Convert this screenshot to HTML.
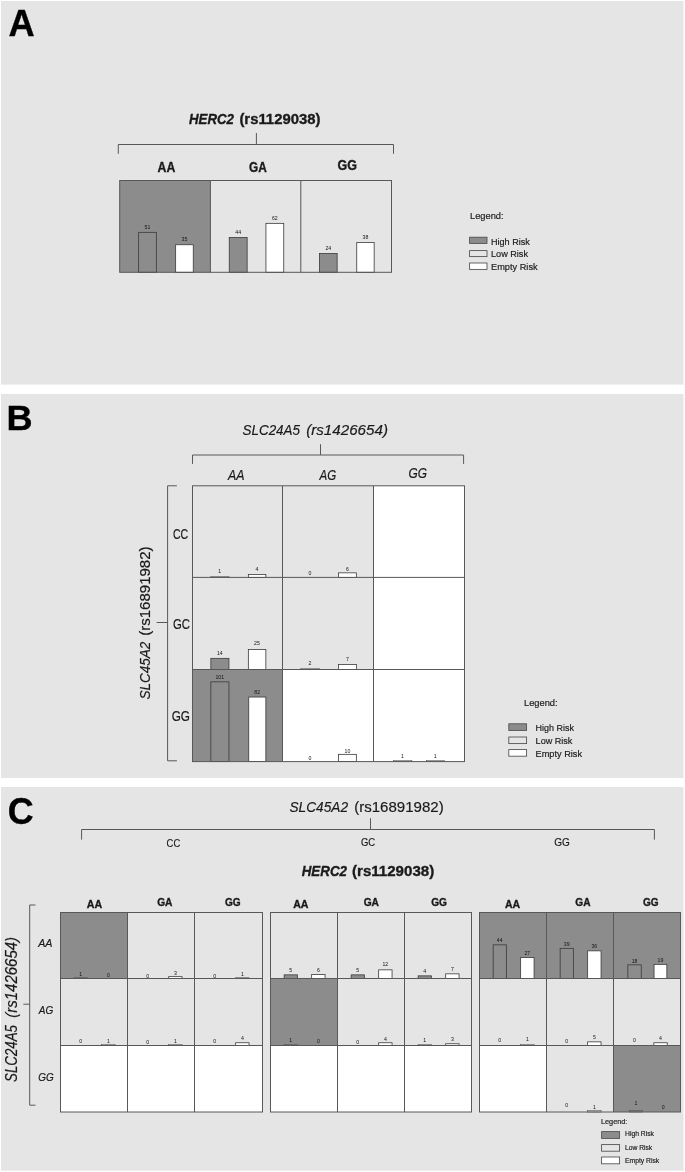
<!DOCTYPE html>
<html><head><meta charset="utf-8"><title>Figure</title>
<style>html,body{margin:0;padding:0;background:#ffffff;}svg{display:block;will-change:transform;}text{font-family:"Liberation Sans",sans-serif;}</style>
</head><body>
<svg width="685" height="1172" viewBox="0 0 685 1172">
<rect x="0" y="0" width="685" height="1172" fill="#ffffff"/>
<rect x="1.00" y="1.00" width="682.50" height="383.60" fill="#e5e5e5"/>
<rect x="1.00" y="393.90" width="682.50" height="384.10" fill="#e5e5e5"/>
<rect x="1.00" y="787.00" width="682.50" height="383.60" fill="#e5e5e5"/>
<text x="8.60" y="35.60" textLength="26.20" lengthAdjust="spacingAndGlyphs" style="font-size:36.8px;font-weight:bold;stroke:#000;stroke-width:0.35px;" fill="#000">A</text>
<text x="189.00" y="124.00" textLength="45.00" lengthAdjust="spacingAndGlyphs" style="font-size:15px;font-weight:bold;stroke:#1a1a1a;stroke-width:0.35px;font-style:italic;" fill="#1a1a1a">HERC2</text>
<text x="239.40" y="124.00" textLength="81.10" lengthAdjust="spacingAndGlyphs" style="font-size:15px;font-weight:bold;stroke:#1a1a1a;stroke-width:0.35px;" fill="#1a1a1a">(rs1129038)</text>
<path d="M118.3 153.8 V144.5 H393.5 V153.8" fill="none" stroke="#585858" stroke-width="1"/>
<line x1="256.40" y1="133.00" x2="256.40" y2="144.50" stroke="#585858" stroke-width="1"/>
<text x="157.60" y="172.20" textLength="17.70" lengthAdjust="spacingAndGlyphs" style="font-size:14.2px;font-weight:bold;stroke:#1a1a1a;stroke-width:0.35px;" fill="#1a1a1a">AA</text>
<text x="249.00" y="172.00" textLength="17.80" lengthAdjust="spacingAndGlyphs" style="font-size:14.2px;font-weight:bold;stroke:#1a1a1a;stroke-width:0.35px;" fill="#1a1a1a">GA</text>
<text x="337.60" y="170.40" textLength="19.40" lengthAdjust="spacingAndGlyphs" style="font-size:14.2px;font-weight:bold;stroke:#1a1a1a;stroke-width:0.35px;" fill="#1a1a1a">GG</text>
<rect x="119.70" y="180.50" width="90.70" height="91.80" fill="#8c8c8c"/>
<rect x="138.65" y="232.35" width="17.70" height="39.95" fill="#8c8c8c" stroke="#3a3a3a" stroke-width="0.8"/>
<rect x="175.65" y="244.75" width="17.60" height="27.55" fill="#ffffff" stroke="#3a3a3a" stroke-width="0.8"/>
<rect x="229.25" y="237.55" width="17.90" height="34.75" fill="#8c8c8c" stroke="#3a3a3a" stroke-width="0.8"/>
<rect x="265.95" y="223.35" width="17.80" height="48.95" fill="#ffffff" stroke="#3a3a3a" stroke-width="0.8"/>
<rect x="319.45" y="253.45" width="17.70" height="18.85" fill="#8c8c8c" stroke="#3a3a3a" stroke-width="0.8"/>
<rect x="356.75" y="242.55" width="17.40" height="29.75" fill="#ffffff" stroke="#3a3a3a" stroke-width="0.8"/>
<text x="147.50" y="228.66" text-anchor="middle" style="font-size:5.2px;" fill="#141414">51</text>
<text x="184.40" y="241.06" text-anchor="middle" style="font-size:5.2px;" fill="#141414">35</text>
<text x="238.20" y="233.86" text-anchor="middle" style="font-size:5.2px;" fill="#141414">44</text>
<text x="274.80" y="219.66" text-anchor="middle" style="font-size:5.2px;" fill="#141414">62</text>
<text x="328.30" y="249.76" text-anchor="middle" style="font-size:5.2px;" fill="#141414">24</text>
<text x="365.40" y="238.86" text-anchor="middle" style="font-size:5.2px;" fill="#141414">38</text>
<line x1="210.40" y1="180.50" x2="210.40" y2="272.30" stroke="#585858" stroke-width="1"/>
<line x1="300.80" y1="180.50" x2="300.80" y2="272.30" stroke="#585858" stroke-width="1"/>
<rect x="119.70" y="180.50" width="271.80" height="91.80" fill="none" stroke="#585858" stroke-width="1"/>
<text x="470.00" y="218.60" textLength="33.60" lengthAdjust="spacingAndGlyphs" style="font-size:9.7px;stroke:#1a1a1a;stroke-width:0.18px;" fill="#1a1a1a">Legend:</text>
<rect x="469.60" y="237.20" width="17.40" height="6.20" fill="#8c8c8c" stroke="#4d4d4d" stroke-width="0.85"/>
<rect x="469.60" y="250.60" width="17.40" height="6.00" fill="#e5e5e5" stroke="#4d4d4d" stroke-width="0.85"/>
<rect x="469.60" y="263.00" width="17.40" height="6.40" fill="#ffffff" stroke="#4d4d4d" stroke-width="0.85"/>
<text x="491.00" y="244.60" textLength="38.80" lengthAdjust="spacingAndGlyphs" style="font-size:9.7px;stroke:#1a1a1a;stroke-width:0.18px;" fill="#1a1a1a">High Risk</text>
<text x="491.00" y="257.40" textLength="37.00" lengthAdjust="spacingAndGlyphs" style="font-size:9.7px;stroke:#1a1a1a;stroke-width:0.18px;" fill="#1a1a1a">Low Risk</text>
<text x="491.00" y="270.00" textLength="46.60" lengthAdjust="spacingAndGlyphs" style="font-size:9.7px;stroke:#1a1a1a;stroke-width:0.18px;" fill="#1a1a1a">Empty Risk</text>
<text x="6.60" y="430.10" textLength="26.10" lengthAdjust="spacingAndGlyphs" style="font-size:35.4px;font-weight:bold;stroke:#000;stroke-width:0.35px;" fill="#000">B</text>
<text x="242.50" y="435.00" textLength="57.50" lengthAdjust="spacingAndGlyphs" style="font-size:15.2px;stroke:#1a1a1a;stroke-width:0.18px;font-style:italic;" fill="#1a1a1a">SLC24A5</text>
<text x="306.20" y="435.00" textLength="81.80" lengthAdjust="spacingAndGlyphs" style="font-size:15.2px;stroke:#1a1a1a;stroke-width:0.18px;font-style:italic;" fill="#1a1a1a">(rs1426654)</text>
<path d="M192.5 463.9 V455 H463.6 V463.9" fill="none" stroke="#585858" stroke-width="1"/>
<line x1="320.50" y1="444.20" x2="320.50" y2="455.00" stroke="#585858" stroke-width="1"/>
<text x="228.00" y="479.50" textLength="16.50" lengthAdjust="spacingAndGlyphs" style="font-size:14.2px;stroke:#1a1a1a;stroke-width:0.18px;font-style:italic;" fill="#1a1a1a">AA</text>
<text x="319.50" y="479.50" textLength="16.70" lengthAdjust="spacingAndGlyphs" style="font-size:14.2px;stroke:#1a1a1a;stroke-width:0.18px;font-style:italic;" fill="#1a1a1a">AG</text>
<text x="408.50" y="478.00" textLength="18.50" lengthAdjust="spacingAndGlyphs" style="font-size:14.2px;stroke:#1a1a1a;stroke-width:0.18px;font-style:italic;" fill="#1a1a1a">GG</text>
<path d="M176.9 485.8 H167.6 V760.8 H176.9" fill="none" stroke="#585858" stroke-width="1"/>
<line x1="156.70" y1="622.50" x2="167.60" y2="622.50" stroke="#585858" stroke-width="1"/>
<text x="173.00" y="539.20" textLength="15.20" lengthAdjust="spacingAndGlyphs" style="font-size:14.2px;stroke:#1a1a1a;stroke-width:0.18px;" fill="#1a1a1a">CC</text>
<text x="173.00" y="629.00" textLength="17.00" lengthAdjust="spacingAndGlyphs" style="font-size:14.2px;stroke:#1a1a1a;stroke-width:0.18px;" fill="#1a1a1a">GC</text>
<text x="171.70" y="720.70" textLength="18.30" lengthAdjust="spacingAndGlyphs" style="font-size:14.2px;stroke:#1a1a1a;stroke-width:0.18px;" fill="#1a1a1a">GG</text>
<text x="0" y="0" transform="translate(150.40,699.60) rotate(-90)" textLength="58.00" lengthAdjust="spacingAndGlyphs" style="font-size:15.2px;stroke:#1a1a1a;stroke-width:0.18px;font-style:italic;" fill="#1a1a1a">SLC45A2</text>
<text x="0" y="0" transform="translate(150.40,635.70) rotate(-90)" textLength="89.20" lengthAdjust="spacingAndGlyphs" style="font-size:15.2px;stroke:#1a1a1a;stroke-width:0.18px;" fill="#1a1a1a">(rs16891982)</text>
<rect x="373.50" y="485.80" width="91.00" height="275.80" fill="#ffffff"/>
<rect x="282.50" y="669.50" width="91.00" height="92.10" fill="#ffffff"/>
<rect x="192.50" y="669.50" width="90.00" height="92.10" fill="#8c8c8c"/>
<rect x="210.80" y="576.40" width="18.20" height="1.00" fill="none" stroke="#555555" stroke-width="0.6"/>
<rect x="248.35" y="574.55" width="17.50" height="2.85" fill="#ffffff" stroke="#3a3a3a" stroke-width="0.8"/>
<rect x="338.55" y="572.85" width="17.80" height="4.55" fill="#ffffff" stroke="#3a3a3a" stroke-width="0.8"/>
<rect x="210.85" y="658.35" width="18.10" height="11.15" fill="#8c8c8c" stroke="#3a3a3a" stroke-width="0.8"/>
<rect x="248.35" y="649.55" width="17.50" height="19.95" fill="#ffffff" stroke="#3a3a3a" stroke-width="0.8"/>
<rect x="300.80" y="668.30" width="18.40" height="1.20" fill="none" stroke="#555555" stroke-width="0.6"/>
<rect x="338.55" y="664.55" width="17.80" height="4.95" fill="#ffffff" stroke="#3a3a3a" stroke-width="0.8"/>
<rect x="210.85" y="681.85" width="18.10" height="79.75" fill="#8c8c8c" stroke="#3a3a3a" stroke-width="0.8"/>
<rect x="248.75" y="697.05" width="17.10" height="64.55" fill="#ffffff" stroke="#3a3a3a" stroke-width="0.8"/>
<rect x="338.55" y="754.35" width="17.80" height="7.25" fill="#ffffff" stroke="#3a3a3a" stroke-width="0.8"/>
<rect x="393.60" y="760.60" width="18.30" height="1.00" fill="none" stroke="#555555" stroke-width="0.6"/>
<rect x="426.30" y="760.60" width="18.20" height="1.00" fill="none" stroke="#555555" stroke-width="0.6"/>
<text x="219.80" y="573.06" text-anchor="middle" style="font-size:5.2px;" fill="#141414">1</text>
<text x="257.00" y="571.06" text-anchor="middle" style="font-size:5.2px;" fill="#141414">4</text>
<text x="347.50" y="571.06" text-anchor="middle" style="font-size:5.2px;" fill="#141414">6</text>
<text x="219.80" y="655.36" text-anchor="middle" style="font-size:5.2px;" fill="#141414">14</text>
<text x="257.00" y="645.06" text-anchor="middle" style="font-size:5.2px;" fill="#141414">25</text>
<text x="310.00" y="665.36" text-anchor="middle" style="font-size:5.2px;" fill="#141414">2</text>
<text x="347.50" y="660.56" text-anchor="middle" style="font-size:5.2px;" fill="#141414">7</text>
<text x="219.80" y="679.36" text-anchor="middle" style="font-size:5.2px;" fill="#141414">101</text>
<text x="257.20" y="693.86" text-anchor="middle" style="font-size:5.2px;" fill="#141414">82</text>
<text x="347.50" y="752.86" text-anchor="middle" style="font-size:5.2px;" fill="#141414">10</text>
<text x="402.50" y="757.66" text-anchor="middle" style="font-size:5.2px;" fill="#141414">1</text>
<text x="435.30" y="757.66" text-anchor="middle" style="font-size:5.2px;" fill="#141414">1</text>
<text x="310.00" y="574.56" text-anchor="middle" style="font-size:5.2px;" fill="#141414">0</text>
<text x="310.00" y="759.56" text-anchor="middle" style="font-size:5.2px;" fill="#141414">0</text>
<line x1="282.50" y1="485.80" x2="282.50" y2="761.60" stroke="#585858" stroke-width="1"/>
<line x1="373.50" y1="485.80" x2="373.50" y2="761.60" stroke="#585858" stroke-width="1"/>
<line x1="192.50" y1="577.40" x2="464.50" y2="577.40" stroke="#585858" stroke-width="1"/>
<line x1="192.50" y1="669.50" x2="464.50" y2="669.50" stroke="#585858" stroke-width="1"/>
<rect x="192.50" y="485.80" width="272.00" height="275.80" fill="none" stroke="#585858" stroke-width="1"/>
<text x="524.00" y="705.60" textLength="33.60" lengthAdjust="spacingAndGlyphs" style="font-size:9.7px;stroke:#1a1a1a;stroke-width:0.18px;" fill="#1a1a1a">Legend:</text>
<rect x="508.80" y="723.80" width="17.80" height="6.60" fill="#8c8c8c" stroke="#4d4d4d" stroke-width="0.85"/>
<rect x="508.80" y="737.00" width="17.80" height="6.60" fill="#e5e5e5" stroke="#4d4d4d" stroke-width="0.85"/>
<rect x="508.80" y="749.60" width="17.80" height="6.60" fill="#ffffff" stroke="#4d4d4d" stroke-width="0.85"/>
<text x="535.60" y="731.20" textLength="38.40" lengthAdjust="spacingAndGlyphs" style="font-size:9.7px;stroke:#1a1a1a;stroke-width:0.18px;" fill="#1a1a1a">High Risk</text>
<text x="535.60" y="744.20" textLength="36.80" lengthAdjust="spacingAndGlyphs" style="font-size:9.7px;stroke:#1a1a1a;stroke-width:0.18px;" fill="#1a1a1a">Low Risk</text>
<text x="535.60" y="756.80" textLength="46.40" lengthAdjust="spacingAndGlyphs" style="font-size:9.7px;stroke:#1a1a1a;stroke-width:0.18px;" fill="#1a1a1a">Empty Risk</text>
<text x="7.70" y="823.70" textLength="25.90" lengthAdjust="spacingAndGlyphs" style="font-size:36.5px;font-weight:bold;stroke:#000;stroke-width:0.35px;" fill="#000">C</text>
<text x="289.50" y="812.00" textLength="58.50" lengthAdjust="spacingAndGlyphs" style="font-size:14.8px;stroke:#1a1a1a;stroke-width:0.18px;font-style:italic;" fill="#1a1a1a">SLC45A2</text>
<text x="354.20" y="812.00" textLength="89.50" lengthAdjust="spacingAndGlyphs" style="font-size:14.8px;stroke:#1a1a1a;stroke-width:0.18px;" fill="#1a1a1a">(rs16891982)</text>
<path d="M81.6 839.6 V829.5 H654.4 V839.6" fill="none" stroke="#585858" stroke-width="1"/>
<line x1="370.50" y1="818.20" x2="370.50" y2="829.50" stroke="#585858" stroke-width="1"/>
<text x="166.60" y="847.40" textLength="13.60" lengthAdjust="spacingAndGlyphs" style="font-size:11.2px;stroke:#1a1a1a;stroke-width:0.18px;" fill="#1a1a1a">CC</text>
<text x="361.00" y="846.40" textLength="14.20" lengthAdjust="spacingAndGlyphs" style="font-size:11.2px;stroke:#1a1a1a;stroke-width:0.18px;" fill="#1a1a1a">GC</text>
<text x="554.20" y="846.20" textLength="15.60" lengthAdjust="spacingAndGlyphs" style="font-size:11.2px;stroke:#1a1a1a;stroke-width:0.18px;" fill="#1a1a1a">GG</text>
<text x="301.70" y="875.70" textLength="45.30" lengthAdjust="spacingAndGlyphs" style="font-size:15px;font-weight:bold;stroke:#1a1a1a;stroke-width:0.35px;font-style:italic;" fill="#1a1a1a">HERC2</text>
<text x="352.00" y="875.70" textLength="82.20" lengthAdjust="spacingAndGlyphs" style="font-size:15px;font-weight:bold;stroke:#1a1a1a;stroke-width:0.35px;" fill="#1a1a1a">(rs1129038)</text>
<path d="M35.5 905 H29.7 V1105.2 H35.5" fill="none" stroke="#585858" stroke-width="1"/>
<line x1="23.30" y1="1004.20" x2="29.70" y2="1004.20" stroke="#585858" stroke-width="1"/>
<text x="38.20" y="946.70" textLength="14.30" lengthAdjust="spacingAndGlyphs" style="font-size:11.2px;stroke:#1a1a1a;stroke-width:0.18px;font-style:italic;" fill="#1a1a1a">AA</text>
<text x="38.70" y="1014.00" textLength="14.50" lengthAdjust="spacingAndGlyphs" style="font-size:11.2px;stroke:#1a1a1a;stroke-width:0.18px;font-style:italic;" fill="#1a1a1a">AG</text>
<text x="38.20" y="1080.50" textLength="15.50" lengthAdjust="spacingAndGlyphs" style="font-size:11.2px;stroke:#1a1a1a;stroke-width:0.18px;font-style:italic;" fill="#1a1a1a">GG</text>
<text x="0" y="0" transform="translate(17.40,1082.00) rotate(-90)" textLength="57.00" lengthAdjust="spacingAndGlyphs" style="font-size:15.8px;stroke:#1a1a1a;stroke-width:0.18px;font-style:italic;" fill="#1a1a1a">SLC24A5</text>
<text x="0" y="0" transform="translate(17.40,1017.80) rotate(-90)" textLength="80.90" lengthAdjust="spacingAndGlyphs" style="font-size:15.8px;stroke:#1a1a1a;stroke-width:0.18px;font-style:italic;" fill="#1a1a1a">(rs1426654)</text>
<text x="86.70" y="907.80" textLength="15.40" lengthAdjust="spacingAndGlyphs" style="font-size:11.2px;font-weight:bold;stroke:#1a1a1a;stroke-width:0.35px;" fill="#1a1a1a">AA</text>
<text x="157.20" y="906.00" textLength="15.30" lengthAdjust="spacingAndGlyphs" style="font-size:11.2px;font-weight:bold;stroke:#1a1a1a;stroke-width:0.35px;" fill="#1a1a1a">GA</text>
<text x="225.00" y="906.00" textLength="15.70" lengthAdjust="spacingAndGlyphs" style="font-size:11.2px;font-weight:bold;stroke:#1a1a1a;stroke-width:0.35px;" fill="#1a1a1a">GG</text>
<text x="293.20" y="907.80" textLength="15.30" lengthAdjust="spacingAndGlyphs" style="font-size:11.2px;font-weight:bold;stroke:#1a1a1a;stroke-width:0.35px;" fill="#1a1a1a">AA</text>
<text x="363.70" y="906.00" textLength="15.30" lengthAdjust="spacingAndGlyphs" style="font-size:11.2px;font-weight:bold;stroke:#1a1a1a;stroke-width:0.35px;" fill="#1a1a1a">GA</text>
<text x="431.20" y="906.00" textLength="15.80" lengthAdjust="spacingAndGlyphs" style="font-size:11.2px;font-weight:bold;stroke:#1a1a1a;stroke-width:0.35px;" fill="#1a1a1a">GG</text>
<text x="505.00" y="907.80" textLength="15.20" lengthAdjust="spacingAndGlyphs" style="font-size:11.2px;font-weight:bold;stroke:#1a1a1a;stroke-width:0.35px;" fill="#1a1a1a">AA</text>
<text x="575.30" y="906.00" textLength="15.20" lengthAdjust="spacingAndGlyphs" style="font-size:11.2px;font-weight:bold;stroke:#1a1a1a;stroke-width:0.35px;" fill="#1a1a1a">GA</text>
<text x="643.00" y="906.00" textLength="15.60" lengthAdjust="spacingAndGlyphs" style="font-size:11.2px;font-weight:bold;stroke:#1a1a1a;stroke-width:0.35px;" fill="#1a1a1a">GG</text>
<rect x="60.50" y="1045.50" width="67.00" height="66.50" fill="#ffffff"/>
<rect x="270.50" y="1045.50" width="67.00" height="66.50" fill="#ffffff"/>
<rect x="127.50" y="1045.50" width="67.00" height="66.50" fill="#ffffff"/>
<rect x="337.50" y="1045.50" width="67.00" height="66.50" fill="#ffffff"/>
<rect x="194.50" y="1045.50" width="68.00" height="66.50" fill="#ffffff"/>
<rect x="404.50" y="1045.50" width="67.00" height="66.50" fill="#ffffff"/>
<rect x="60.50" y="912.50" width="67.00" height="66.00" fill="#8c8c8c"/>
<rect x="270.50" y="978.50" width="67.00" height="67.00" fill="#8c8c8c"/>
<rect x="479.50" y="912.50" width="67.00" height="66.00" fill="#8c8c8c"/>
<rect x="546.50" y="912.50" width="67.00" height="66.00" fill="#8c8c8c"/>
<rect x="613.50" y="912.50" width="67.00" height="66.00" fill="#8c8c8c"/>
<rect x="479.50" y="1045.50" width="67.00" height="66.50" fill="#ffffff"/>
<rect x="613.50" y="1045.50" width="67.00" height="66.50" fill="#8c8c8c"/>
<rect x="74.10" y="977.70" width="13.30" height="0.80" fill="none" stroke="#555555" stroke-width="0.6"/>
<rect x="168.65" y="976.65" width="13.40" height="1.85" fill="#ffffff" stroke="#3a3a3a" stroke-width="0.8"/>
<rect x="235.60" y="977.70" width="13.50" height="0.80" fill="none" stroke="#555555" stroke-width="0.6"/>
<rect x="101.60" y="1044.30" width="13.50" height="1.20" fill="none" stroke="#555555" stroke-width="0.6"/>
<rect x="168.60" y="1044.30" width="13.50" height="1.20" fill="none" stroke="#555555" stroke-width="0.6"/>
<rect x="235.65" y="1042.75" width="13.40" height="2.75" fill="#ffffff" stroke="#3a3a3a" stroke-width="0.8"/>
<rect x="284.15" y="974.85" width="13.20" height="3.65" fill="#8c8c8c" stroke="#3a3a3a" stroke-width="0.8"/>
<rect x="311.65" y="974.55" width="13.40" height="3.95" fill="#ffffff" stroke="#3a3a3a" stroke-width="0.8"/>
<rect x="351.15" y="974.85" width="13.20" height="3.65" fill="#8c8c8c" stroke="#3a3a3a" stroke-width="0.8"/>
<rect x="378.65" y="969.85" width="13.40" height="8.65" fill="#ffffff" stroke="#3a3a3a" stroke-width="0.8"/>
<rect x="418.15" y="975.85" width="13.20" height="2.65" fill="#8c8c8c" stroke="#3a3a3a" stroke-width="0.8"/>
<rect x="445.65" y="973.85" width="13.40" height="4.65" fill="#ffffff" stroke="#3a3a3a" stroke-width="0.8"/>
<rect x="284.10" y="1044.30" width="13.30" height="1.20" fill="none" stroke="#555555" stroke-width="0.6"/>
<rect x="378.65" y="1042.75" width="13.40" height="2.75" fill="#ffffff" stroke="#3a3a3a" stroke-width="0.8"/>
<rect x="418.10" y="1044.30" width="13.30" height="1.20" fill="none" stroke="#555555" stroke-width="0.6"/>
<rect x="445.65" y="1043.75" width="13.40" height="1.75" fill="#ffffff" stroke="#3a3a3a" stroke-width="0.8"/>
<rect x="493.15" y="944.85" width="13.20" height="33.65" fill="#8c8c8c" stroke="#3a3a3a" stroke-width="0.8"/>
<rect x="520.65" y="957.55" width="13.40" height="20.95" fill="#ffffff" stroke="#3a3a3a" stroke-width="0.8"/>
<rect x="560.15" y="948.35" width="13.20" height="30.15" fill="#8c8c8c" stroke="#3a3a3a" stroke-width="0.8"/>
<rect x="587.65" y="950.85" width="13.40" height="27.65" fill="#ffffff" stroke="#3a3a3a" stroke-width="0.8"/>
<rect x="627.85" y="964.85" width="13.40" height="13.65" fill="#8c8c8c" stroke="#3a3a3a" stroke-width="0.8"/>
<rect x="654.05" y="964.35" width="12.80" height="14.15" fill="#ffffff" stroke="#3a3a3a" stroke-width="0.8"/>
<rect x="520.60" y="1044.30" width="13.50" height="1.20" fill="none" stroke="#555555" stroke-width="0.6"/>
<rect x="587.65" y="1041.85" width="13.40" height="3.65" fill="#ffffff" stroke="#3a3a3a" stroke-width="0.8"/>
<rect x="653.85" y="1042.75" width="13.40" height="2.75" fill="#ffffff" stroke="#3a3a3a" stroke-width="0.8"/>
<rect x="587.60" y="1110.60" width="13.50" height="1.40" fill="none" stroke="#555555" stroke-width="0.6"/>
<rect x="629.50" y="1110.60" width="12.80" height="1.40" fill="none" stroke="#555555" stroke-width="0.6"/>
<text x="80.75" y="975.86" text-anchor="middle" style="font-size:5.2px;" fill="#141414">1</text>
<text x="108.35" y="977.06" text-anchor="middle" style="font-size:5.2px;" fill="#141414">0</text>
<text x="147.75" y="977.86" text-anchor="middle" style="font-size:5.2px;" fill="#141414">0</text>
<text x="175.35" y="974.86" text-anchor="middle" style="font-size:5.2px;" fill="#141414">3</text>
<text x="214.75" y="977.86" text-anchor="middle" style="font-size:5.2px;" fill="#141414">0</text>
<text x="242.35" y="975.86" text-anchor="middle" style="font-size:5.2px;" fill="#141414">1</text>
<text x="80.75" y="1043.46" text-anchor="middle" style="font-size:5.2px;" fill="#141414">0</text>
<text x="108.35" y="1042.66" text-anchor="middle" style="font-size:5.2px;" fill="#141414">1</text>
<text x="147.75" y="1043.86" text-anchor="middle" style="font-size:5.2px;" fill="#141414">0</text>
<text x="175.35" y="1042.66" text-anchor="middle" style="font-size:5.2px;" fill="#141414">1</text>
<text x="214.75" y="1043.06" text-anchor="middle" style="font-size:5.2px;" fill="#141414">0</text>
<text x="242.35" y="1040.06" text-anchor="middle" style="font-size:5.2px;" fill="#141414">4</text>
<text x="290.75" y="972.36" text-anchor="middle" style="font-size:5.2px;" fill="#141414">5</text>
<text x="318.35" y="971.86" text-anchor="middle" style="font-size:5.2px;" fill="#141414">6</text>
<text x="357.75" y="972.06" text-anchor="middle" style="font-size:5.2px;" fill="#141414">5</text>
<text x="385.35" y="966.06" text-anchor="middle" style="font-size:5.2px;" fill="#141414">12</text>
<text x="424.75" y="972.86" text-anchor="middle" style="font-size:5.2px;" fill="#141414">4</text>
<text x="452.35" y="970.86" text-anchor="middle" style="font-size:5.2px;" fill="#141414">7</text>
<text x="290.75" y="1042.06" text-anchor="middle" style="font-size:5.2px;" fill="#141414">1</text>
<text x="318.35" y="1043.06" text-anchor="middle" style="font-size:5.2px;" fill="#141414">0</text>
<text x="357.75" y="1043.56" text-anchor="middle" style="font-size:5.2px;" fill="#141414">0</text>
<text x="385.35" y="1040.86" text-anchor="middle" style="font-size:5.2px;" fill="#141414">4</text>
<text x="424.75" y="1042.06" text-anchor="middle" style="font-size:5.2px;" fill="#141414">1</text>
<text x="452.35" y="1041.06" text-anchor="middle" style="font-size:5.2px;" fill="#141414">3</text>
<text x="499.75" y="942.36" text-anchor="middle" style="font-size:5.2px;" fill="#141414">44</text>
<text x="527.35" y="955.36" text-anchor="middle" style="font-size:5.2px;" fill="#141414">27</text>
<text x="566.75" y="946.06" text-anchor="middle" style="font-size:5.2px;" fill="#141414">39</text>
<text x="594.35" y="947.56" text-anchor="middle" style="font-size:5.2px;" fill="#141414">36</text>
<text x="634.55" y="962.86" text-anchor="middle" style="font-size:5.2px;" fill="#141414">18</text>
<text x="660.45" y="961.86" text-anchor="middle" style="font-size:5.2px;" fill="#141414">19</text>
<text x="499.75" y="1042.06" text-anchor="middle" style="font-size:5.2px;" fill="#141414">0</text>
<text x="527.35" y="1040.86" text-anchor="middle" style="font-size:5.2px;" fill="#141414">1</text>
<text x="566.75" y="1042.56" text-anchor="middle" style="font-size:5.2px;" fill="#141414">0</text>
<text x="594.35" y="1038.56" text-anchor="middle" style="font-size:5.2px;" fill="#141414">5</text>
<text x="634.55" y="1041.86" text-anchor="middle" style="font-size:5.2px;" fill="#141414">0</text>
<text x="660.55" y="1040.46" text-anchor="middle" style="font-size:5.2px;" fill="#141414">4</text>
<text x="566.75" y="1107.06" text-anchor="middle" style="font-size:5.2px;" fill="#141414">0</text>
<text x="594.35" y="1108.66" text-anchor="middle" style="font-size:5.2px;" fill="#141414">1</text>
<text x="635.90" y="1104.86" text-anchor="middle" style="font-size:5.2px;" fill="#141414">1</text>
<text x="663.30" y="1108.66" text-anchor="middle" style="font-size:5.2px;" fill="#141414">0</text>
<line x1="127.50" y1="912.50" x2="127.50" y2="1112.00" stroke="#585858" stroke-width="1"/>
<line x1="194.50" y1="912.50" x2="194.50" y2="1112.00" stroke="#585858" stroke-width="1"/>
<line x1="60.50" y1="978.50" x2="262.50" y2="978.50" stroke="#585858" stroke-width="1"/>
<line x1="60.50" y1="1045.50" x2="262.50" y2="1045.50" stroke="#585858" stroke-width="1"/>
<rect x="60.50" y="912.50" width="202.00" height="199.50" fill="none" stroke="#585858" stroke-width="1"/>
<line x1="337.50" y1="912.50" x2="337.50" y2="1112.00" stroke="#585858" stroke-width="1"/>
<line x1="404.50" y1="912.50" x2="404.50" y2="1112.00" stroke="#585858" stroke-width="1"/>
<line x1="270.50" y1="978.50" x2="471.50" y2="978.50" stroke="#585858" stroke-width="1"/>
<line x1="270.50" y1="1045.50" x2="471.50" y2="1045.50" stroke="#585858" stroke-width="1"/>
<rect x="270.50" y="912.50" width="201.00" height="199.50" fill="none" stroke="#585858" stroke-width="1"/>
<line x1="546.50" y1="912.50" x2="546.50" y2="1112.00" stroke="#585858" stroke-width="1"/>
<line x1="613.50" y1="912.50" x2="613.50" y2="1112.00" stroke="#585858" stroke-width="1"/>
<line x1="479.50" y1="978.50" x2="680.50" y2="978.50" stroke="#585858" stroke-width="1"/>
<line x1="479.50" y1="1045.50" x2="680.50" y2="1045.50" stroke="#585858" stroke-width="1"/>
<rect x="479.50" y="912.50" width="201.00" height="199.50" fill="none" stroke="#585858" stroke-width="1"/>
<text x="601.00" y="1124.00" textLength="26.40" lengthAdjust="spacingAndGlyphs" style="font-size:7.4px;stroke:#1a1a1a;stroke-width:0.18px;" fill="#1a1a1a">Legend:</text>
<rect x="601.60" y="1131.60" width="18.00" height="6.80" fill="#8c8c8c" stroke="#4d4d4d" stroke-width="0.85"/>
<rect x="601.60" y="1144.60" width="18.00" height="6.60" fill="#e5e5e5" stroke="#4d4d4d" stroke-width="0.85"/>
<rect x="601.60" y="1157.00" width="18.00" height="6.80" fill="#ffffff" stroke="#4d4d4d" stroke-width="0.85"/>
<text x="625.00" y="1136.40" textLength="29.00" lengthAdjust="spacingAndGlyphs" style="font-size:7.4px;stroke:#1a1a1a;stroke-width:0.18px;" fill="#1a1a1a">High Risk</text>
<text x="625.00" y="1149.60" textLength="27.20" lengthAdjust="spacingAndGlyphs" style="font-size:7.4px;stroke:#1a1a1a;stroke-width:0.18px;" fill="#1a1a1a">Low Risk</text>
<text x="625.00" y="1162.80" textLength="34.20" lengthAdjust="spacingAndGlyphs" style="font-size:7.4px;stroke:#1a1a1a;stroke-width:0.18px;" fill="#1a1a1a">Empty Risk</text>
</svg>
</body></html>
